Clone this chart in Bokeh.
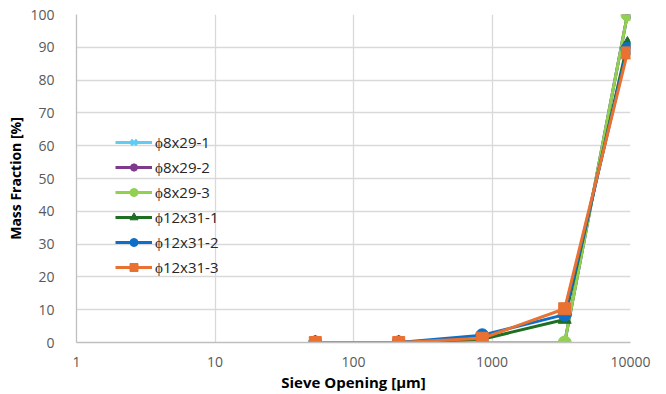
from bokeh.plotting import figure
from bokeh.models import Legend, LegendItem, FixedTicker, NumeralTickFormatter, Range1d
from bokeh.embed import file_html
from bokeh.resources import INLINE

sieve = [53, 212, 850, 3350, 9500]
series_names = ["ϕ8x29-1", "ϕ8x29-2", "ϕ8x29-3", "ϕ12x31-1", "ϕ12x31-2", "ϕ12x31-3"]
s1 = [0, 0, 0, 0, 100]
s2 = [0, 0, 0, 0, 100]
s3 = [0, 0, 0, 0, 100]
s4 = [0, 0, 1, 7, 91]
s5 = [0, 0, 2.2, 8.5, 89.5]
s6 = [0, 0, 1.3, 10.3, 88.3]
series_values = [s1, s2, s3, s4, s5, s6]
x_ticks = [1, 10, 100, 1000, 10000]
y_ticks = [0, 10, 20, 30, 40, 50, 60, 70, 80, 90, 100]

colors = ["#61cbf3", "#7e3b8e", "#92d050", "#1e6e24", "#0f6fc6", "#e97132"]
markers = ["x", "asterisk", "circle", "triangle", "circle", "square"]
msizes = [11, 11, 13, 13, 13, 12]

p = figure(width=666, height=394, x_axis_type="log", output_backend="svg",
           toolbar_location=None, x_range=Range1d(1, 10000), y_range=Range1d(0, 100),
           min_border_left=76, min_border_right=36, min_border_top=14, min_border_bottom=51)
p.outline_line_color = None
p.background_fill_color = "white"
p.border_fill_color = "white"

for ax in (p.xaxis[0], p.yaxis[0]):
    ax.axis_line_color = "#bfbfbf"
    ax.axis_line_width = 1.3
    ax.major_tick_line_color = None
    ax.minor_tick_line_color = None
    ax.major_label_text_color = "#595959"
    ax.major_label_text_font = "Open Sans"
    ax.major_label_text_font_size = "14px"
    ax.axis_label_text_font = "Open Sans"
    ax.axis_label_text_font_style = "bold"
    ax.axis_label_text_color = "#000000"

p.xaxis.axis_label_text_font_size = "15px"
p.yaxis.axis_label_text_font_size = "14px"
p.xaxis.ticker = FixedTicker(ticks=x_ticks, minor_ticks=[])
p.xaxis.formatter = NumeralTickFormatter(format="0")
p.yaxis.ticker = FixedTicker(ticks=y_ticks, minor_ticks=[])
p.xaxis.axis_label = "Sieve Opening [µm]"
p.yaxis.axis_label = "Mass Fraction [%]"
p.xaxis.major_label_standoff = 8
p.xaxis.axis_label_standoff = 2
p.yaxis.major_label_standoff = 16
p.yaxis.axis_label_standoff = 2

p.xgrid.grid_line_color = "#d9d9d9"
p.ygrid.grid_line_color = "#d9d9d9"
p.xgrid.grid_line_width = 1.3
p.ygrid.grid_line_width = 1.3

items = []
for name, vals, c, m, ms in zip(series_names, series_values, colors, markers, msizes):
    ln = p.line(sieve, vals, line_color=c, line_width=3)
    lw = 2.5 if m in ("x", "asterisk") else 1
    sc = p.scatter(sieve, vals, marker=m, size=ms, fill_color=c, line_color=c, line_width=lw)
    items.append(LegendItem(label=name, renderers=[ln, sc]))

legend = Legend(items=items, location=(39, 65), glyph_width=37, glyph_height=20,
                label_height=20, spacing=5, padding=0, margin=0, label_standoff=3,
                border_line_color=None, background_fill_alpha=0,
                label_text_font="Open Sans", label_text_font_size="15px",
                label_text_color="#262626")
p.add_layout(legend, "center")

open("out.html", "w").write(file_html(p, INLINE))
